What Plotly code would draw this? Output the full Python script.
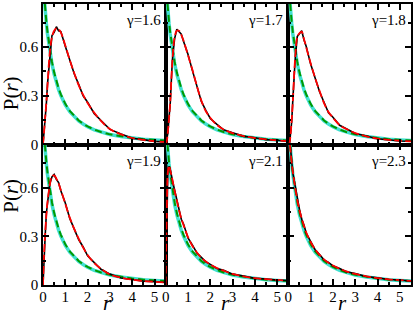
import plotly.graph_objects as go

R = [0, 0.05, 0.1, 0.15, 0.2, 0.3, 0.4, 0.5, 0.6, 0.7, 0.8, 1.0, 1.2, 1.4, 1.6,
     1.8, 2.0, 2.3, 2.6, 3.0, 3.5, 4.0, 4.5, 5.0, 5.5]

GREEN = [1.0, 0.907, 0.826, 0.756, 0.694, 0.592, 0.51, 0.444, 0.391, 0.346, 0.309,
         0.25, 0.207, 0.174, 0.148, 0.128, 0.111, 0.092, 0.077, 0.0625, 0.049, 0.04,
         0.033, 0.028, 0.024]
CYAN = [1.0, 0.9, 0.815, 0.745, 0.682, 0.58, 0.498, 0.433, 0.381, 0.337, 0.301,
        0.244, 0.202, 0.17, 0.145, 0.126, 0.109, 0.09, 0.076, 0.062, 0.049, 0.04,
        0.033, 0.028, 0.024]

GAMMAS = ["1.6", "1.7", "1.8", "1.9", "2.1", "2.3"]

RED = {
    "1.6": [0, 0.08, 0.17, 0.26, 0.36, 0.56, 0.66, 0.70, 0.715, 0.71, 0.69, 0.61, 0.52,
            0.44, 0.365, 0.305, 0.255, 0.195, 0.145, 0.095, 0.062, 0.04, 0.028, 0.02, 0.015],
    "1.7": [0, 0.02, 0.08, 0.16, 0.25, 0.51, 0.66, 0.70, 0.70, 0.675, 0.64, 0.55, 0.46,
            0.36, 0.27, 0.205, 0.165, 0.12, 0.092, 0.07, 0.052, 0.04, 0.032, 0.025, 0.02],
    "1.8": [0, 0.01, 0.06, 0.15, 0.26, 0.52, 0.66, 0.685, 0.695, 0.65, 0.60, 0.50, 0.41,
            0.33, 0.255, 0.2, 0.165, 0.12, 0.095, 0.07, 0.05, 0.036, 0.028, 0.023, 0.019],
    "1.9": [0, 0.2, 0.32, 0.43, 0.51, 0.61, 0.67, 0.675, 0.655, 0.625, 0.585, 0.5, 0.415,
            0.345, 0.285, 0.23, 0.185, 0.135, 0.1, 0.065, 0.045, 0.033, 0.025, 0.02, 0.016],
    "2.1": [0, 0.45, 0.7, 0.735, 0.71, 0.65, 0.58, 0.52, 0.46, 0.41, 0.37, 0.295, 0.24,
            0.2, 0.168, 0.145, 0.125, 0.104, 0.088, 0.068, 0.053, 0.042, 0.036, 0.031, 0.027],
    "2.3": [1.0, 0.89, 0.82, 0.755, 0.7, 0.605, 0.525, 0.46, 0.41, 0.365, 0.325, 0.265,
            0.22, 0.185, 0.158, 0.137, 0.12, 0.1, 0.084, 0.068, 0.053, 0.043, 0.035, 0.03, 0.025],
}
BLACK = {
    "1.6": [0, 0.07, 0.18, 0.25, 0.37, 0.55, 0.67, 0.69, 0.725, 0.70, 0.695, 0.605, 0.525,
            0.435, 0.37, 0.30, 0.26, 0.19, 0.148, 0.093, 0.064, 0.038, 0.03, 0.019, 0.016],
    "1.7": [0, 0.03, 0.07, 0.17, 0.24, 0.52, 0.65, 0.71, 0.695, 0.68, 0.635, 0.555, 0.455,
            0.365, 0.265, 0.21, 0.16, 0.124, 0.09, 0.072, 0.05, 0.042, 0.03, 0.026, 0.019],
    "1.8": [0, 0.0, 0.07, 0.14, 0.27, 0.51, 0.665, 0.68, 0.70, 0.645, 0.605, 0.495, 0.415,
            0.325, 0.26, 0.195, 0.168, 0.118, 0.097, 0.068, 0.052, 0.035, 0.029, 0.022, 0.02],
    "1.9": [0, 0.21, 0.31, 0.44, 0.5, 0.62, 0.665, 0.68, 0.65, 0.63, 0.58, 0.505, 0.41,
            0.35, 0.28, 0.234, 0.18, 0.138, 0.097, 0.067, 0.043, 0.034, 0.024, 0.021, 0.015],
    "2.1": [0, 0.44, 0.71, 0.73, 0.715, 0.645, 0.585, 0.515, 0.465, 0.405, 0.375, 0.29, 0.245,
            0.197, 0.17, 0.143, 0.127, 0.102, 0.09, 0.067, 0.055, 0.041, 0.037, 0.03, 0.028],
    "2.3": [1.0, 0.9, 0.81, 0.76, 0.69, 0.61, 0.52, 0.465, 0.405, 0.37, 0.32, 0.268,
            0.217, 0.188, 0.155, 0.139, 0.118, 0.102, 0.082, 0.07, 0.052, 0.044, 0.034, 0.031, 0.024],
}

X_RANGE = [0, 5.5]
Y_RANGE = [0, 0.865]

FONT = "Liberation Serif"
fig = go.Figure()

ncol, nrow = 3, 2
for i, g in enumerate(GAMMAS):
    row, col = i // ncol, i % ncol
    k = i + 1
    xa = "x" if k == 1 else f"x{k}"
    ya = "y" if k == 1 else f"y{k}"
    fig.add_trace(go.Scatter(x=R, y=CYAN, mode="lines", xaxis=xa, yaxis=ya,
                             line=dict(color="#40E0D0", width=3.5), showlegend=False))
    fig.add_trace(go.Scatter(x=R, y=GREEN, mode="lines", xaxis=xa, yaxis=ya,
                             line=dict(color="#009900", width=2, dash="7px,4px"), showlegend=False))
    fig.add_trace(go.Scatter(x=R, y=BLACK[g], mode="lines", xaxis=xa, yaxis=ya,
                             line=dict(color="black", width=1.6), showlegend=False))
    fig.add_trace(go.Scatter(x=R, y=RED[g], mode="lines", xaxis=xa, yaxis=ya,
                             line=dict(color="red", width=1.8, dash="8px,3px", shape="spline"),
                             showlegend=False))

    x0, x1 = col / ncol, (col + 1) / ncol
    y1, y0 = 1 - row / nrow, 1 - (row + 1) / nrow
    axcommon = dict(showline=True, linecolor="black", linewidth=1.5, mirror="allticks",
                    ticks="inside", tickcolor="black", tickwidth=1.5, ticklen=6,
                    showgrid=False, zeroline=False,
                    tickfont=dict(family=FONT, size=15, color="black"))
    xkey = "xaxis" if k == 1 else f"xaxis{k}"
    ykey = "yaxis" if k == 1 else f"yaxis{k}"
    fig.update_layout(**{
        xkey: dict(domain=[x0, x1], anchor=ya, range=X_RANGE, dtick=1, tick0=0,
                   showticklabels=(row == 1), ticklabelstandoff=-3,
                   minor=dict(dtick=0.5, ticks="inside", ticklen=3, tickcolor="black", tickwidth=1.5),
                   **axcommon),
        ykey: dict(domain=[y0, y1], anchor=xa, range=Y_RANGE, dtick=0.3, tick0=0,
                   showticklabels=(col == 0),
                   minor=dict(dtick=0.15, ticks="inside", ticklen=3, tickcolor="black", tickwidth=1.5),
                   **axcommon),
    })
    fig.add_annotation(x=x1, y=y1, xref="paper", yref="paper", xanchor="right", yanchor="top",
                       xshift=-3, yshift=-6, text=f"γ={g}", showarrow=False,
                       font=dict(family=FONT, size=15, color="black"))
    if row == 1:
        fig.add_annotation(x=(x0 + x1) / 2, y=0, xref="paper", yref="paper", yanchor="bottom",
                           yshift=-31, xshift=-2, borderpad=0, text="<i>r</i>", showarrow=False,
                           font=dict(family=FONT, size=21, color="black"))
    if col == 0:
        fig.add_annotation(x=0, y=(y0 + y1) / 2, xref="paper", yref="paper", xanchor="right",
                           xshift=-18, text="P(<i>r</i>)", showarrow=False, textangle=-90,
                           font=dict(family=FONT, size=21, color="black"))

fig.update_layout(width=415, height=313, margin=dict(l=43, r=2, t=3, b=28),
                  paper_bgcolor="white", plot_bgcolor="white")
fig.write_html("out.html", config={"displayModeBar": False},
               post_script="document.body.style.margin='0';document.body.style.padding='0';")
